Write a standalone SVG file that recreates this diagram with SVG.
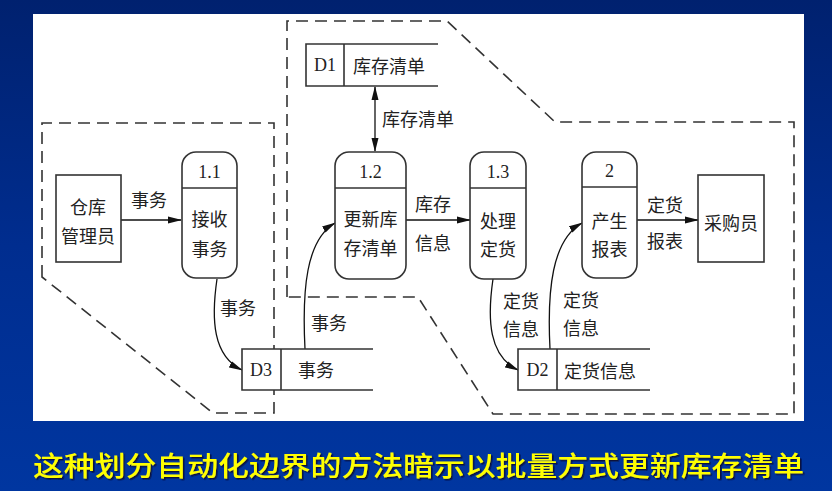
<svg xmlns="http://www.w3.org/2000/svg" width="832" height="491" viewBox="0 0 832 491">
<defs>
<linearGradient id="bg" x1="0" y1="0" x2="0" y2="1">
<stop offset="0" stop-color="#00216f"/>
<stop offset="0.5" stop-color="#002d8f"/>
<stop offset="1" stop-color="#0036a0"/>
</linearGradient>
<filter id="sh" x="-5%" y="-30%" width="110%" height="160%">
<feDropShadow dx="1.5" dy="1.5" stdDeviation="0.3" flood-color="#111133" flood-opacity="0.9"/>
</filter>
<marker id="ah" viewBox="0 0 14 8" refX="13" refY="4" markerWidth="14" markerHeight="8" markerUnits="userSpaceOnUse" orient="auto-start-reverse">
<path d="M0,0.5 L14,4 L0,7.5 Z" fill="#111"/>
</marker>
<style>
.dash{fill:none;stroke:#333;stroke-width:1.6;stroke-dasharray:12 7}
.box{fill:#fff;stroke:#333;stroke-width:1.6}
.ln{fill:none;stroke:#333;stroke-width:1.6}
.wf{fill:#fff;stroke:none}
.fl{fill:none;stroke:#111;stroke-width:1.3}
.t{font-family:"Noto Sans CJK SC","Liberation Serif",serif;font-size:18px;fill:#222;text-anchor:middle;dominant-baseline:central}
.n{font-family:"Liberation Serif","Noto Sans CJK SC",serif;font-size:18px;fill:#222;text-anchor:middle;dominant-baseline:central}
.cap{font-family:"Noto Sans CJK SC",sans-serif;font-size:27px;fill:#ffff00;font-weight:500}
</style>
</defs>
<rect width="832" height="491" fill="url(#bg)"/>
<rect x="33" y="14" width="771" height="407" fill="#fff"/>

<g id="boundaries">
<path class="dash" d="M42,277 L42,123 L274,123 L274,413 L213,413 Z"/>
<path class="dash" d="M287,297 L287,21 L447,21 L555,122 L794,122 L794,414 L493,414 L418,297 Z"/>
</g>

<g id="connectors">
<line class="fl" x1="121" y1="220" x2="181" y2="220" marker-end="url(#ah)"/>
<line class="fl" x1="406" y1="220" x2="470" y2="220" marker-end="url(#ah)"/>
<line class="fl" x1="637" y1="220" x2="698" y2="220" marker-end="url(#ah)"/>
<line class="fl" x1="375" y1="87" x2="375" y2="151" marker-start="url(#ah)" marker-end="url(#ah)"/>
<path class="fl" d="M217,279 C211,320 213,356 242,370" marker-end="url(#ah)"/>
<path class="fl" d="M305,349 C302,290 306,240 335,223" marker-end="url(#ah)"/>
<path class="fl" d="M493,279 C487,320 489,356 518,370" marker-end="url(#ah)"/>
<path class="fl" d="M550,349 C547,290 552,240 582,223" marker-end="url(#ah)"/>
</g>

<g id="flowlabels">
<text class="t" x="149" y="199">事务</text>
<text class="t" x="238" y="307">事务</text>
<text class="t" x="329" y="322">事务</text>
<text class="t" x="418" y="118">库存清单</text>
<text class="t" x="433" y="203">库存</text>
<text class="t" x="433" y="242">信息</text>
<text class="t" x="665" y="204">定货</text>
<text class="t" x="665" y="240">报表</text>
<text class="t" x="521" y="300">定货</text>
<text class="t" x="521" y="328">信息</text>
<text class="t" x="581" y="299">定货</text>
<text class="t" x="581" y="327">信息</text>
</g>

<g id="ext-warehouse">
<rect class="box" x="56" y="175" width="65" height="87"/>
<text class="t" x="88" y="206">仓库</text>
<text class="t" x="88" y="235">管理员</text>
</g>

<g id="ext-buyer">
<rect class="box" x="698" y="175" width="66" height="87"/>
<text class="t" x="731" y="222">采购员</text>
</g>

<g id="p1-1">
<rect class="box" x="182" y="152" width="55" height="126" rx="14"/>
<line class="ln" x1="182" y1="188" x2="237" y2="188"/>
<text class="n" x="209.5" y="172">1.1</text>
<text class="t" x="209.5" y="218">接收</text>
<text class="t" x="209.5" y="248">事务</text>
</g>

<g id="p1-2">
<rect class="box" x="335" y="152" width="71" height="127" rx="14"/>
<line class="ln" x1="335" y1="188" x2="406" y2="188"/>
<text class="n" x="370.5" y="172">1.2</text>
<text class="t" x="370.5" y="218">更新库</text>
<text class="t" x="370.5" y="247">存清单</text>
</g>

<g id="p1-3">
<rect class="box" x="470" y="152" width="56" height="127" rx="14"/>
<line class="ln" x1="470" y1="188" x2="526" y2="188"/>
<text class="n" x="498" y="172">1.3</text>
<text class="t" x="498" y="220">处理</text>
<text class="t" x="498" y="248">定货</text>
</g>

<g id="p2">
<rect class="box" x="582" y="152" width="55" height="126" rx="14"/>
<line class="ln" x1="582" y1="187" x2="637" y2="187"/>
<text class="n" x="609.5" y="171">2</text>
<text class="t" x="609.5" y="220">产生</text>
<text class="t" x="609.5" y="248">报表</text>
</g>

<g id="d1">
<rect class="wf" x="306" y="44" width="132" height="42"/>
<path class="ln" d="M438,44 L306,44 L306,86 L438,86 M344,44 L344,86"/>
<text class="n" x="325" y="65">D1</text>
<text class="t" x="389" y="65">库存清单</text>
</g>

<g id="d3">
<rect class="wf" x="242" y="349" width="131" height="41"/>
<path class="ln" d="M373,349 L242,349 L242,390 L373,390 M281,349 L281,390"/>
<text class="n" x="261" y="369.5">D3</text>
<text class="t" x="316" y="369">事务</text>
</g>

<g id="d2">
<rect class="wf" x="518" y="349" width="132" height="41"/>
<path class="ln" d="M650,349 L518,349 L518,390 L650,390 M557,349 L557,390"/>
<text class="n" x="537.5" y="370">D2</text>
<text class="t" x="600" y="370">定货信息</text>
</g>

<g id="caption">
<text class="cap" x="33" y="476" textLength="771" lengthAdjust="spacingAndGlyphs" filter="url(#sh)">这种划分自动化边界的方法暗示以批量方式更新库存清单</text>
</g>
</svg>
